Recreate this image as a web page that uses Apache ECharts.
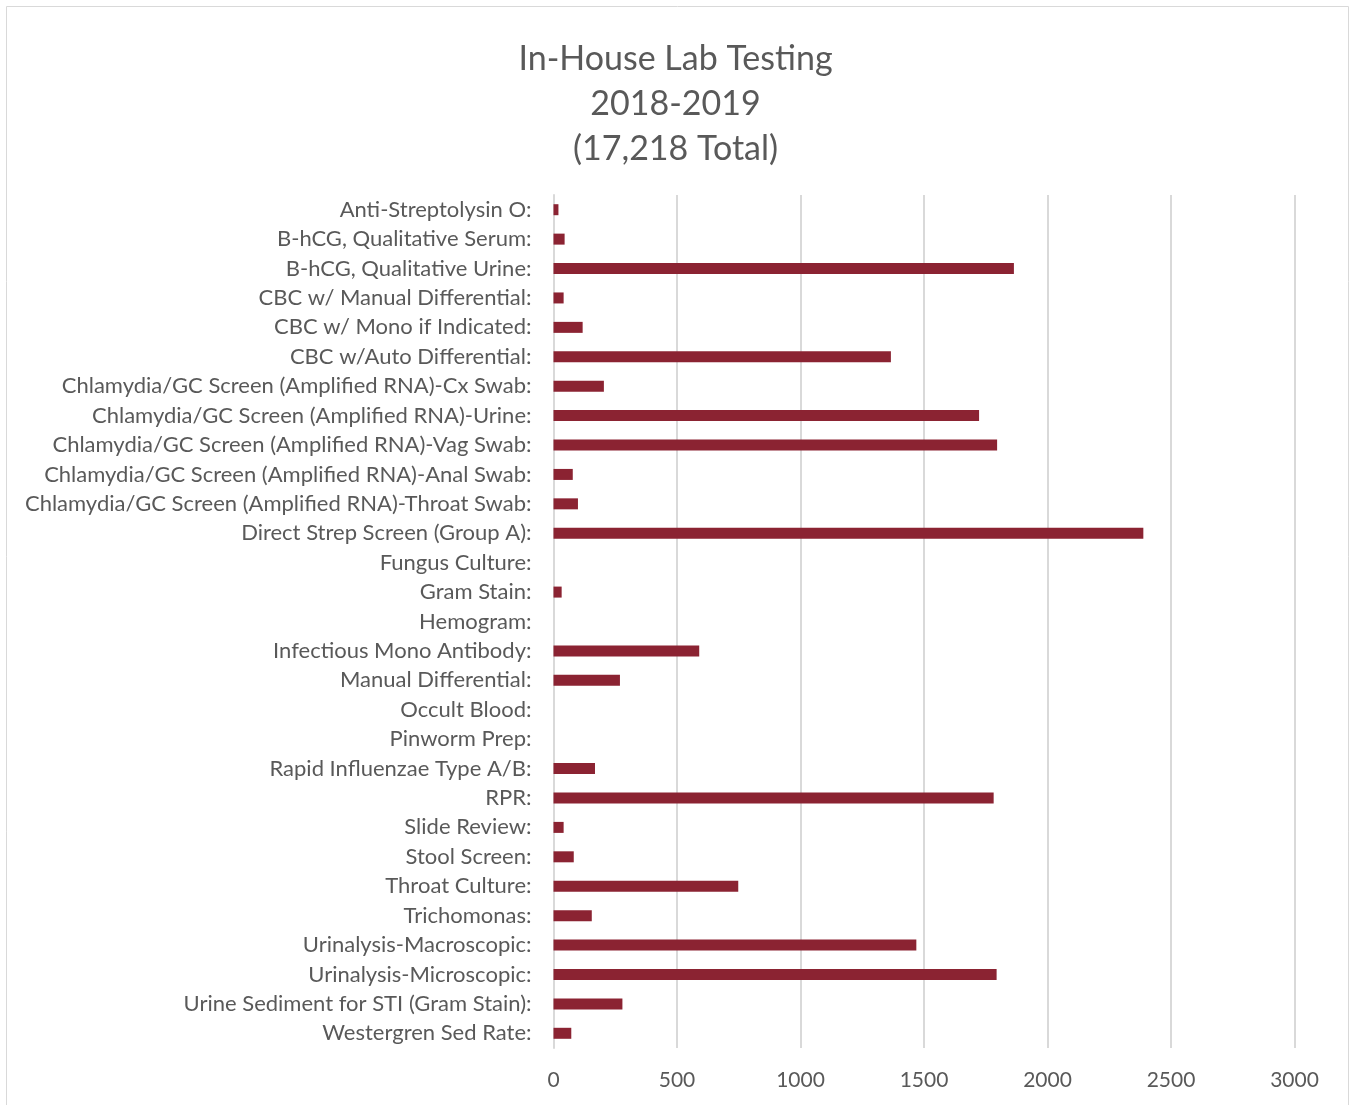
<!DOCTYPE html>
<html>
<head>
<meta charset="utf-8">
<title>In-House Lab Testing</title>
<script src="https://cdn.jsdelivr.net/npm/echarts@6/dist/echarts.min.js"></script>
<style>
  html, body { margin: 0; padding: 0; background: #fff; }
  #chart { width: 1351px; height: 1105px; }
</style>
</head>
<body>
<div id="chart"></div>
<script>
// test names, top to bottom
const categories = [
  'Anti-Streptolysin O:',
  'B-hCG, Qualitative Serum:',
  'B-hCG, Qualitative Urine:',
  'CBC w/ Manual Differential:',
  'CBC w/ Mono if Indicated:',
  'CBC w/Auto Differential:',
  'Chlamydia/GC Screen (Amplified RNA)-Cx Swab:',
  'Chlamydia/GC Screen (Amplified RNA)-Urine:',
  'Chlamydia/GC Screen (Amplified RNA)-Vag Swab:',
  'Chlamydia/GC Screen (Amplified RNA)-Anal Swab:',
  'Chlamydia/GC Screen (Amplified RNA)-Throat Swab:',
  'Direct Strep Screen (Group A):',
  'Fungus Culture:',
  'Gram Stain:',
  'Hemogram:',
  'Infectious Mono Antibody:',
  'Manual Differential:',
  'Occult Blood:',
  'Pinworm Prep:',
  'Rapid Influenzae Type A/B:',
  'RPR:',
  'Slide Review:',
  'Stool Screen:',
  'Throat Culture:',
  'Trichomonas:',
  'Urinalysis-Macroscopic:',
  'Urinalysis-Microscopic:',
  'Urine Sediment for STI (Gram Stain):',
  'Westergren Sed Rate:'
]

// test counts
const counts = [
  20, 45, 1864, 41, 118, 1366, 204, 1723, 1796, 78, 99, 2388,
  0, 33, 0, 590, 269, 0, 0, 168, 1782, 41, 82, 748, 155,
  1469, 1794, 279, 72
]

const titleLines = ['In-House Lab Testing', '2018-2019', '(17,218 Total)']

const fontFamily = 'Lato, "Open Sans", sans-serif'
const textColor = '#595959'
const gridColor = '#d9d9d9'

const chart = echarts.init(document.getElementById('chart'))

chart.setOption({
  animation: false,
  textStyle: { fontFamily: fontFamily },
  title: {
    text: titleLines.join('\n'),
    left: 'center',
    top: 32,
    textStyle: {
      fontFamily: fontFamily,
      fontSize: 34,
      fontWeight: 'normal',
      color: textColor,
      lineHeight: 45
    }
  },
  graphic: [{
    type: 'rect',
    shape: { x: 6.5, y: 6.5, width: 1342, height: 1110 },
    style: { fill: 'none', stroke: gridColor, lineWidth: 1 },
    silent: true,
    z: -1
  }],
  grid: {
    left: 553.5,
    right: 56.5,
    top: 195,
    bottom: 57,
    containLabel: false
  },
  xAxis: {
    type: 'value',
    min: 0,
    max: 3000,
    interval: 500,
    axisLine: { show: false },
    axisTick: { show: false },
    splitLine: { lineStyle: { color: gridColor, width: 2 } },
    axisLabel: {
      color: textColor,
      fontSize: 21,
      margin: 22,
      fontFamily: fontFamily,
      formatter: function (v) { return String(v) }
    }
  },
  yAxis: {
    type: 'category',
    inverse: true,
    data: categories,
    axisLine: { lineStyle: { color: gridColor, width: 2 } },
    axisTick: { show: false },
    axisLabel: {
      color: textColor,
      fontSize: 22,
      margin: 22,
      fontFamily: fontFamily
    }
  },
  series: [{
    type: 'bar',
    data: counts,
    barWidth: 11,
    itemStyle: { color: '#8b2332' }
  }]
})
</script>
</body>
</html>
